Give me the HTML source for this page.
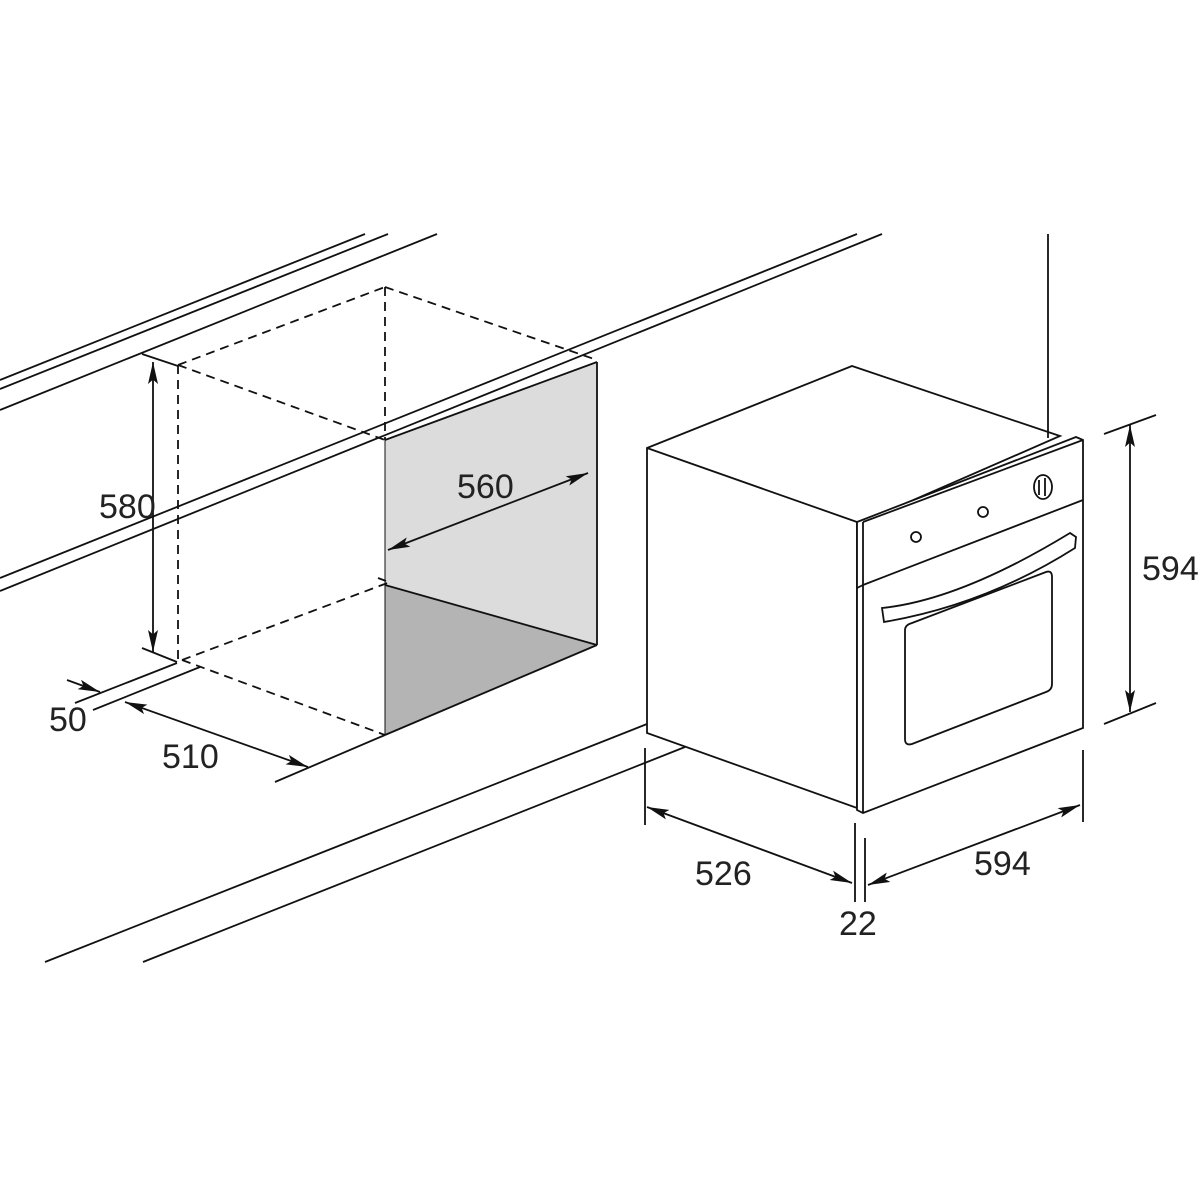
<!DOCTYPE html>
<html><head><meta charset="utf-8"><style>
html,body{margin:0;padding:0;background:#fff;}
svg{display:block}
text{font-family:"Liberation Sans",sans-serif;font-size:34px;fill:#222;}
</style></head><body>
<svg width="1200" height="1200" viewBox="0 0 1200 1200" xmlns="http://www.w3.org/2000/svg">
<defs>
<marker id="b" viewBox="0 0 10 10" refX="10" refY="5" markerWidth="22" markerHeight="10" preserveAspectRatio="none" orient="auto-start-reverse" markerUnits="userSpaceOnUse"><path d="M0,0 L10,5 L0,10 L2,5 Z" fill="#111"/></marker>
</defs>
<g stroke="#111" stroke-width="1.8" fill="none">
<line x1="0" y1="380" x2="365" y2="234"/>
<line x1="0" y1="389" x2="388" y2="234"/>
<line x1="0" y1="410" x2="437" y2="234"/>
<line x1="0" y1="578" x2="857" y2="234"/>
<line x1="0" y1="591" x2="882" y2="234"/>
<line x1="45" y1="962" x2="647" y2="724"/>
<line x1="143" y1="962" x2="685" y2="747"/>
<polygon points="385,440 597,362 597,645 385,585" fill="#dcdcdc" stroke="none"/>
<polygon points="385,585 597,645 385,735" fill="#b4b4b4" stroke="none"/>
<line x1="385" y1="440" x2="597" y2="362"/>
<line x1="597" y1="362" x2="597" y2="645"/>
<line x1="385" y1="585" x2="597" y2="645"/>
<line x1="385" y1="735" x2="597" y2="645"/>
<line x1="385" y1="440" x2="385" y2="735" stroke-width="1"/>
<g stroke-dasharray="9,6">
<line x1="385" y1="287" x2="385" y2="440"/>
<line x1="178" y1="365" x2="178" y2="660"/>
<line x1="178" y1="365" x2="385" y2="440"/>
<line x1="178" y1="365" x2="385" y2="287"/>
<line x1="385" y1="287" x2="597" y2="360"/>
<line x1="182" y1="660" x2="385" y2="735"/>
<line x1="182" y1="660" x2="390" y2="582"/>
</g>
<line x1="378" y1="578" x2="386" y2="581"/>
<line x1="142" y1="354" x2="178" y2="366"/>
<line x1="142" y1="648" x2="177" y2="662"/>
<line x1="153" y1="362" x2="153" y2="652" marker-start="url(#b)" marker-end="url(#b)"/>
<line x1="388" y1="550" x2="588" y2="473" marker-start="url(#b)" marker-end="url(#b)"/>
<line x1="75" y1="703" x2="177" y2="663"/>
<line x1="93" y1="710" x2="200" y2="667"/>
<line x1="67" y1="680" x2="100" y2="692" marker-end="url(#b)"/>
<line x1="125" y1="702" x2="308" y2="767" marker-start="url(#b)" marker-end="url(#b)"/>
<line x1="275" y1="782" x2="385" y2="735"/>
<polygon points="647,448 852,366 1060,436 863,522 857,522 857,808 647,733" fill="#fff"/>
<line x1="647" y1="448" x2="857" y2="522"/>
<line x1="1048" y1="234" x2="1048" y2="438"/>
<polygon points="857,522 1076,437 1083,440 1083,728 863,813 857,810" fill="#fff"/>
<line x1="863" y1="522" x2="1083" y2="440"/>
<line x1="863" y1="522" x2="863" y2="813"/>
<line x1="863" y1="585" x2="1083" y2="500"/>
<line x1="857" y1="588" x2="863" y2="585"/>
<ellipse cx="1043" cy="487" rx="9" ry="12"/>
<line x1="1039" y1="480" x2="1039" y2="495"/><line x1="1045" y1="478" x2="1045" y2="496"/>
<ellipse cx="916" cy="537" rx="5" ry="5"/><ellipse cx="983" cy="512" rx="5" ry="5"/>
<path d="M882,608 Q960,600 1070,533 L1076,537 L1075,548 Q985,605 884,622 Z"/>
<path d="M912,623 L1046,572 Q1052,570 1052,577 L1052,684 Q1052,690 1046,692 L912,744 Q905,746 905,739 L905,630 Q905,625 912,623 Z"/>
<line x1="1104" y1="434" x2="1156" y2="415"/>
<line x1="1104" y1="724" x2="1156" y2="703"/>
<line x1="1130" y1="425" x2="1130" y2="712" marker-start="url(#b)" marker-end="url(#b)"/>
<line x1="645" y1="748" x2="645" y2="825"/>
<line x1="1083" y1="750" x2="1083" y2="822"/>
<line x1="855" y1="823" x2="855" y2="902"/>
<line x1="865" y1="838" x2="865" y2="902"/>
<line x1="647" y1="807" x2="852" y2="883" marker-start="url(#b)" marker-end="url(#b)"/>
<line x1="868" y1="885" x2="1080" y2="805" marker-start="url(#b)" marker-end="url(#b)"/>
</g>
<text x="99" y="518">580</text>
<text x="457" y="498">560</text>
<text x="49" y="731">50</text>
<text x="162" y="768">510</text>
<text x="695" y="885">526</text>
<text x="974" y="875">594</text>
<text x="839" y="935">22</text>
<text x="1142" y="580">594</text>
</svg>
</body></html>
